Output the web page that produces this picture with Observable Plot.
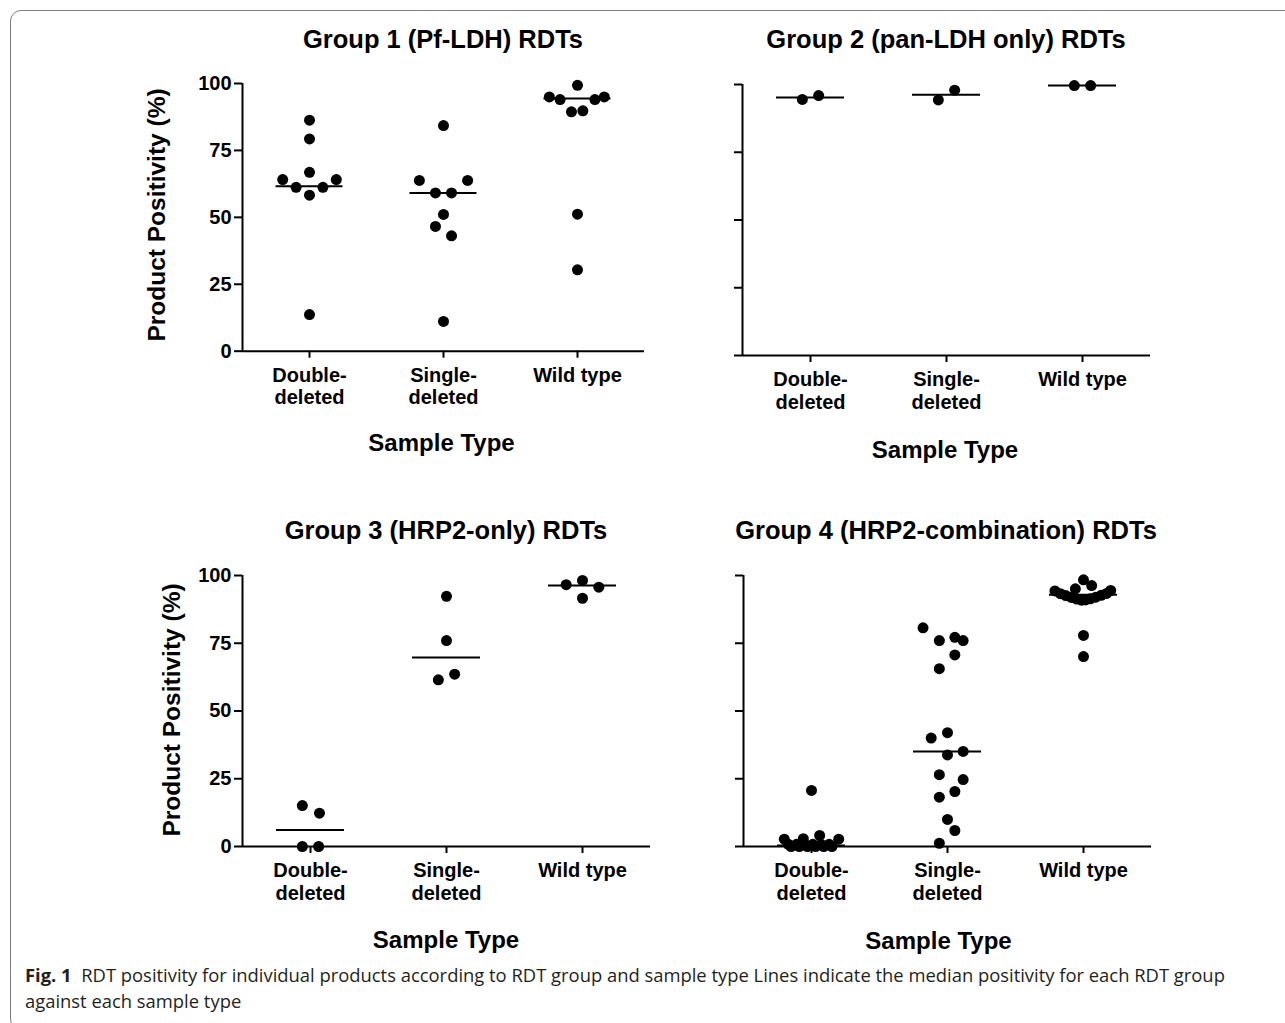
<!DOCTYPE html>
<html><head><meta charset="utf-8">
<script src="https://cdn.jsdelivr.net/npm/d3@7"></script>
<script src="https://cdn.jsdelivr.net/npm/@observablehq/plot@0.6"></script>
<style>
html,body{margin:0;padding:0;background:#fff;overflow:hidden;}
#page{position:relative;width:1285px;height:1023px;overflow:hidden;font-family:"Liberation Sans",Arial,sans-serif;}
.frame{position:absolute;left:10px;top:10px;width:1300px;height:1020px;border:1.5px solid #808080;border-radius:11px;box-sizing:border-box;}
.lbl{position:absolute;white-space:nowrap;font-weight:bold;color:#000;transform:translate(-50%,-50%);line-height:1;}
.panel{position:absolute;}
.caption{position:absolute;left:25px;top:962px;font-family:"Open Sans",sans-serif;font-size:18.4px;line-height:26px;color:#231f20;white-space:nowrap;transform-origin:0 0;}
.caption b{color:#231f20;}
</style></head>
<body><div id="page"><div class="frame"></div></div>
<script>
// ---- data ----
const categories = ["Double-\ndeleted", "Single-\ndeleted", "Wild type"];
const yTicks = [0, 25, 50, 75, 100];

// each point: [positivity %, horizontal spread within the column (category units)]
const g1Double = [[86.3,0],[79.3,0],[66.8,0],[64.1,-0.2],[64.1,0.2],[61.2,-0.1],[61.2,0.1],[58.3,0],[13.7,0]];
const g1Single = [[84.3,0],[63.8,-0.18],[63.8,0.18],[59.1,-0.06],[59.1,0.06],[51.1,0],[46.6,-0.06],[43.1,0.06],[11.1,0]];
const g1Wild   = [[99.3,0],[95.0,-0.21],[94.0,-0.13],[94.0,0.13],[95.0,0.2],[89.4,-0.045],[89.8,0.04],[51.2,0],[30.4,0]];
const g1Medians = [61.6, 59.1, 94.4];

const g2Double = [[94.5,-0.06],[95.9,0.06]];
const g2Single = [[94.3,-0.06],[97.9,0.06]];
const g2Wild   = [[99.6,-0.06],[99.6,0.06]];
const g2Medians = [95.2, 96.2, 99.6];

const g3Double = [[15.1,-0.06],[12.3,0.066],[0,-0.06],[0,0.06]];
const g3Single = [[92.3,0],[76.0,0],[61.5,-0.06],[63.6,0.06]];
const g3Wild   = [[96.6,-0.12],[98.2,0],[95.7,0.12],[91.6,0]];
const g3Medians = [6.1, 69.7, 96.3];

const g4Double = [[20.7,0],[2.7,-0.2],[2.9,-0.06],[4.1,0.06],[2.7,0.2],
  [0,-0.15],[0,-0.09],[0,-0.03],[0,0.03],[0,0.09],[0,0.15],
  [0.8,-0.17],[0.8,-0.11],[0.8,-0.05],[0.8,0.01],[0.8,0.07],[0.8,0.13]];
const g4Single = [[80.7,-0.18],[76.0,-0.06],[77.2,0.054],[76.0,0.115],[70.7,0.054],[65.6,-0.06],
  [40.0,-0.12],[42.0,0],[33.8,0],[35.1,0.115],[26.5,-0.06],[24.7,0.115],[18.2,-0.06],[20.3,0.054],
  [10.0,0],[5.9,0.054],[1.2,-0.06]];
const g4Wild = [[98.4,0],[96.3,0.06],[95.1,-0.06],[94.3,-0.21],[94.5,0.2],
  [93.3,-0.17],[92.6,-0.13],[91.9,-0.09],[91.3,-0.05],[90.9,-0.015],[91.0,0.015],[91.4,0.05],[92.0,0.09],[92.7,0.13],[93.4,0.17],
  [77.9,0],[70.1,0]];
const g4Medians = [0.4, 35.1, 92.9];

const groupTitles = ["Group 1 (Pf-LDH) RDTs", "Group 2 (pan-LDH only) RDTs", "Group 3 (HRP2-only) RDTs", "Group 4 (HRP2-combination) RDTs"];
const yTitle = "Product Positivity (%)";
const xTitle = "Sample Type";

// ---- drawing ----
const page = document.getElementById("page");
const ML = 110, MR = 20, MT = 20, MB = 90;

function rowsOf(cols) {
  const rows = [];
  cols.forEach((col, i) => col.forEach(([v, s]) => rows.push({cat: i + 1, value: v, spread: s})));
  return rows;
}

function panel(cols, medians, L, showYLabels) {
  const W = (L.x1 - L.x0) + ML + MR;
  const H = (L.yB - L.yT) + MT + MB;
  const rows = rowsOf(cols);
  const svg = Plot.plot({
    width: W, height: H,
    marginLeft: ML, marginRight: MR, marginTop: MT, marginBottom: MB,
    x: {domain: [0.5, 3.5]},
    y: {domain: [0, 100]},
    style: {fontFamily: '"Liberation Sans", Arial, sans-serif', fontWeight: "bold", color: "#000", background: "transparent", overflow: "visible"},
    marks: [
      Plot.axisY({ticks: yTicks, tickSize: 8, tickPadding: 3, strokeWidth: 2, label: null, fontSize: 20,
        tickFormat: showYLabels ? (d => String(d)) : (() => "")}),
      Plot.axisX({ticks: [1, 2, 3], tickSize: 7, tickPadding: 8, strokeWidth: 2, label: null, fontSize: 20, lineHeight: 1.12,
        tickFormat: d => categories[d - 1]}),
      Plot.ruleX([0.5], {y1: 0, y2: 100, strokeWidth: 2}),
      Plot.ruleY([0], {x1: 0.5, x2: 3.5, strokeWidth: 2}),
      Plot.ruleY(medians, {y: d => d, x1: (d, i) => i + 1 - 0.25, x2: (d, i) => i + 1 + 0.25, strokeWidth: 2}),
      Plot.dot(rows, {x: d => d.cat + d.spread, y: "value", r: 5.5, fill: "#000", stroke: null})
    ]
  });
  svg.classList.add("panel");
  svg.style.left = (L.x0 - ML) + "px";
  svg.style.top = (L.yT - MT) + "px";
  page.appendChild(svg);
}

function label(text, x, y, size, rotate) {
  const d = document.createElement("div");
  d.className = "lbl";
  d.textContent = text;
  d.style.left = x + "px";
  d.style.top = y + "px";
  d.style.fontSize = size + "px";
  if (rotate) d.style.transform = "translate(-50%,-50%) rotate(-90deg)";
  page.appendChild(d);
}

panel([g1Double, g1Single, g1Wild], g1Medians, {x0: 242, x1: 644, yT: 83.3, yB: 351}, true);
panel([g2Double, g2Single, g2Wild], g2Medians, {x0: 742, x1: 1150, yT: 84, yB: 355}, false);
panel([g3Double, g3Single, g3Wild], g3Medians, {x0: 242, x1: 650, yT: 575, yB: 846}, true);
panel([g4Double, g4Single, g4Wild], g4Medians, {x0: 743, x1: 1151, yT: 575, yB: 846}, false);

label(groupTitles[0], 443, 40, 25.5);
label(groupTitles[1], 946, 40, 25.5);
label(groupTitles[2], 446, 531, 25.5);
label(groupTitles[3], 946, 531, 25.5);
label(yTitle, 156.5, 215, 24.5, true);
label(yTitle, 171.5, 710, 24.5, true);
label(xTitle, 441.5, 443, 24);
label(xTitle, 945, 450, 24);
label(xTitle, 446, 940, 24);
label(xTitle, 938.5, 941, 24);

const cap = document.createElement("div");
cap.className = "caption";
cap.innerHTML = "<b>Fig. 1</b>&nbsp; RDT positivity for individual products according to RDT group and sample type Lines indicate the median positivity for each RDT group<br>against each sample type";
page.appendChild(cap);
</script>
</body></html>
